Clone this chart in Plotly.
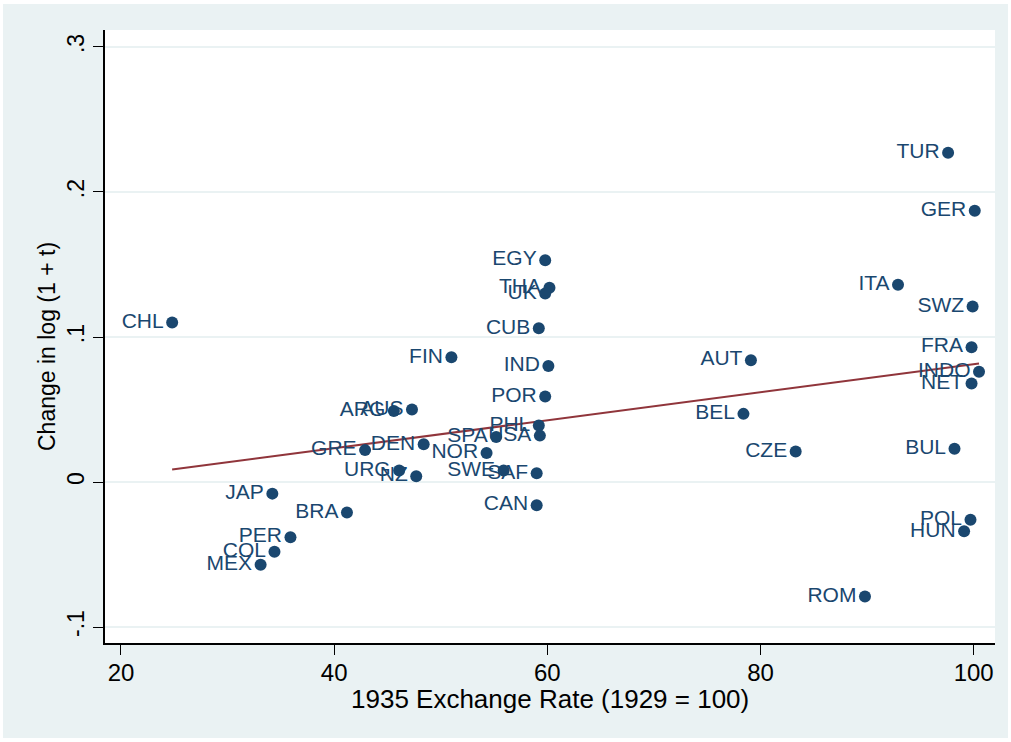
import numpy as np
import plotly.graph_objects as go

countries = ["CHL", "JAP", "BRA", "PER", "COL", "MEX", "ARG", "AUS", "GRE", "DEN",
             "URG", "NZ", "FIN", "NOR", "SPA", "SWE", "USA", "PHL", "SAF", "CAN",
             "POR", "IND", "CUB", "EGY", "THA", "UK", "AUT", "BEL", "CZE", "ROM",
             "TUR", "GER", "ITA", "SWZ", "FRA", "INDO", "NET", "BUL", "POL", "HUN"]
exch_rate = [24.8, 34.2, 41.2, 35.9, 34.4, 33.1, 45.6, 47.3, 42.9, 48.4,
             46.1, 47.7, 51.0, 54.3, 55.2, 55.9, 59.3, 59.2, 59.0, 59.0,
             59.8, 60.1, 59.2, 59.8, 60.2, 59.8, 79.1, 78.4, 83.3, 89.8,
             97.6, 100.1, 92.9, 99.9, 99.8, 100.5, 99.8, 98.2, 99.7, 99.1]
d_log_tariff = [0.110, -0.008, -0.021, -0.038, -0.048, -0.057, 0.049, 0.050, 0.022, 0.026,
                0.008, 0.004, 0.086, 0.020, 0.031, 0.008, 0.032, 0.039, 0.006, -0.016,
                0.059, 0.080, 0.106, 0.153, 0.134, 0.130, 0.084, 0.047, 0.021, -0.079,
                0.227, 0.187, 0.136, 0.121, 0.093, 0.076, 0.068, 0.023, -0.026, -0.034]

y_ticks = [-0.1, 0, 0.1, 0.2, 0.3]
y_tick_labels = ["-.1", "0", ".1", ".2", ".3"]
x_ticks = [20, 40, 60, 80, 100]

navy = "#1A476F"
maroon = "#90353B"
bg = "#EAF2F3"
font_family = "Liberation Sans, Arial, sans-serif"

x = np.array(exch_rate)
y = np.array(d_log_tariff)
slope, intercept = np.polyfit(x, y, 1)
fx = np.array([x.min(), x.max()])
fy = intercept + slope * fx

fig = go.Figure()
fig.add_trace(go.Scatter(
    x=fx, y=fy, mode="lines",
    line=dict(color=maroon, width=2), hoverinfo="skip", showlegend=False))
fig.add_trace(go.Scatter(
    x=exch_rate, y=d_log_tariff, mode="markers+text",
    text=countries, textposition="middle left",
    textfont=dict(family=font_family, size=21, color=navy),
    marker=dict(color=navy, size=12),
    showlegend=False))

W, H = 1011, 742
l, r, t, b = 105, 16, 30, 99
pw, ph = W - l - r, H - t - b

def px2paper_x(px):
    return (px - l) / pw

def px2paper_y(py):
    return (H - b - py) / ph

fig.update_layout(
    width=W, height=H,
    margin=dict(l=l, r=r, t=t, b=b, autoexpand=False),
    paper_bgcolor="white",
    plot_bgcolor="white",
    font=dict(family=font_family, color="black"),
    shapes=[
        dict(type="rect", xref="paper", yref="paper",
             x0=px2paper_x(3), x1=px2paper_x(W - 3),
             y0=px2paper_y(H - 4), y1=px2paper_y(4),
             fillcolor=bg, line=dict(width=0), layer="below"),
        dict(type="rect", xref="paper", yref="paper",
             x0=0, x1=1, y0=0, y1=1,
             fillcolor="white", line=dict(width=0), layer="below"),
    ],
    annotations=[
        dict(text="Change in log (1 + t)", xref="paper", yref="paper",
             x=px2paper_x(47), y=px2paper_y(347), textangle=-90,
             showarrow=False, xanchor="center", yanchor="middle",
             font=dict(size=23, color="black", family=font_family)),
        dict(text="1935 Exchange Rate (1929 = 100)", xref="paper", yref="paper",
             x=px2paper_x(550), y=px2paper_y(699),
             showarrow=False, xanchor="center", yanchor="middle",
             font=dict(size=26, color="black", family=font_family)),
    ],
    xaxis=dict(
        range=[18.5, 102.0],
        tickvals=x_ticks, automargin=False,
        ticks="outside", ticklen=10, tickcolor="black", tickwidth=1,
        showgrid=False, zeroline=False,
        showline=True, linecolor="black", linewidth=1.5,
        tickfont=dict(size=24, color="black"),
        ticklabelstandoff=-3,
    ),
    yaxis=dict(
        range=[-0.111, 0.3117],
        tickvals=y_ticks, ticktext=y_tick_labels, automargin=False,
        tickangle=-90,
        ticks="outside", ticklen=10, tickcolor="black", tickwidth=1,
        showgrid=True, gridcolor=bg, gridwidth=1.5,
        zeroline=False,
        showline=True, linecolor="black", linewidth=1.5,
        tickfont=dict(size=23, color="black"),
        ticklabelstandoff=0,
    ),
)

fig.write_html("out.html", config={"displayModeBar": False},
               post_script="document.body.style.margin='0';document.body.style.padding='0';")
